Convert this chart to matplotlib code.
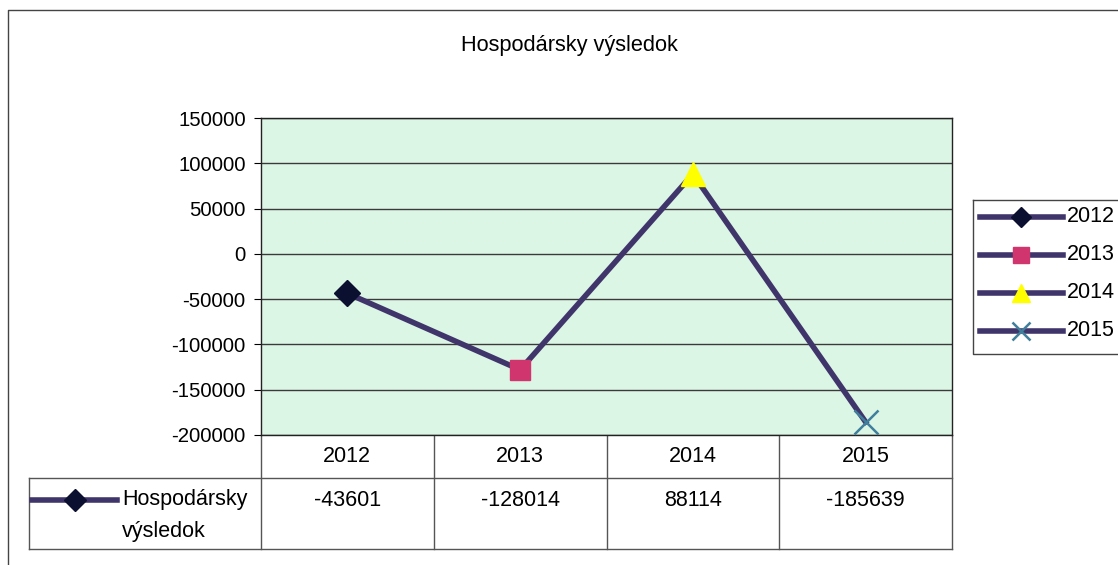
import matplotlib.pyplot as plt

plt.rcParams['font.family'] = ['Liberation Sans', 'DejaVu Sans']
plt.rcParams['axes.unicode_minus'] = False

years = ["2012", "2013", "2014", "2015"]
values = [-43601, -128014, 88114, -185639]
series_name = "Hospodársky výsledok"
title = "Hospodársky výsledok"

line_color = "#40356a"
marker_styles = [
    dict(marker="D", markersize=13, markerfacecolor="#0c1030", markeredgecolor="#0c1030"),
    dict(marker="s", markersize=15, markerfacecolor="#d0356e", markeredgecolor="#d0356e"),
    dict(marker="^", markersize=17, markerfacecolor="#ffff00", markeredgecolor="#ffff00"),
    dict(marker="x", markersize=17, markeredgecolor="#3f7f9c", markeredgewidth=1.8),
]
fs = 15.5

W, H = 1118, 565
fig = plt.figure(figsize=(W / 100, H / 100), dpi=100)

# plot area in pixels
px_l, px_r, px_t, px_b = 261, 952, 118, 435
ax = fig.add_axes([px_l / W, 1 - px_b / H, (px_r - px_l) / W, (px_b - px_t) / H])
ax.set_facecolor("#dcf6e6")
x = list(range(len(years)))
ax.plot(x, values, color=line_color, lw=4, zorder=3)
for xi, v, st in zip(x, values, marker_styles):
    ax.plot([xi], [v], linestyle="none", zorder=4, **st)
ax.set_xlim(-0.5, len(years) - 0.5)
ax.set_ylim(-200000, 150000)
ax.set_yticks(range(-200000, 150001, 50000))
ax.yaxis.grid(True, color="#3a3a3a", lw=1)
ax.set_axisbelow(True)
ax.set_xticks([])
ax.tick_params(axis="y", labelsize=14.7, length=5, direction="out", pad=6)
for s in ax.spines.values():
    s.set_color("#222222")
    s.set_linewidth(1)

# overlay in pixel coordinates for frame, title, table, legend
ov = fig.add_axes([0, 0, 1, 1], zorder=-1)
ov.set_xlim(0, W)
ov.set_ylim(H, 0)
ov.axis("off")
ov.plot([8, 8, W], [H, 10, 10], color="#444444", lw=1)
ov.text(569, 45, title, ha="center", va="center", fontsize=15.7)

# data table
col_w = (px_r - px_l) / len(years)
row1_b, row2_b = 478, 549
tc = "#555555"
ov.plot([29, px_r], [row1_b, row1_b], color=tc, lw=1)
ov.plot([29, px_r], [row2_b, row2_b], color=tc, lw=1)
ov.plot([29, 29], [row1_b, row2_b], color=tc, lw=1)
for i in range(len(years) + 1):
    xx = px_l + i * col_w
    ov.plot([xx, xx], [px_b, row2_b], color=tc, lw=1)
for i, (yr, v) in enumerate(zip(years, values)):
    cx = px_l + (i + 0.5) * col_w
    ov.text(cx, 457, yr, ha="center", va="center", fontsize=fs)
    ov.text(cx, 500, str(v), ha="center", va="center", fontsize=fs)
ov.plot([32, 117], [500, 500], color=line_color, lw=4)
ov.plot([75], [500], linestyle="none", **dict(marker_styles[0], markersize=11))
ov.text(122, 500, "Hospodársky", ha="left", va="center", fontsize=fs)
ov.text(122, 532, "výsledok", ha="left", va="center", fontsize=fs)

# legend
ov.plot([973, 973, W], [200, 354, 354], color="#444444", lw=1)
ov.plot([973, W], [200, 200], color="#444444", lw=1)
for i, (yr, st) in enumerate(zip(years, marker_styles)):
    yy = 217 + i * 38
    ov.plot([980, 1063], [yy, yy], color=line_color, lw=4)
    small = dict(st, markersize=st["markersize"] * 0.75)
    ov.plot([1021], [yy], linestyle="none", **small)
    ov.text(1067, yy, yr, ha="left", va="center", fontsize=fs)

fig.savefig("out.png", dpi=100)
